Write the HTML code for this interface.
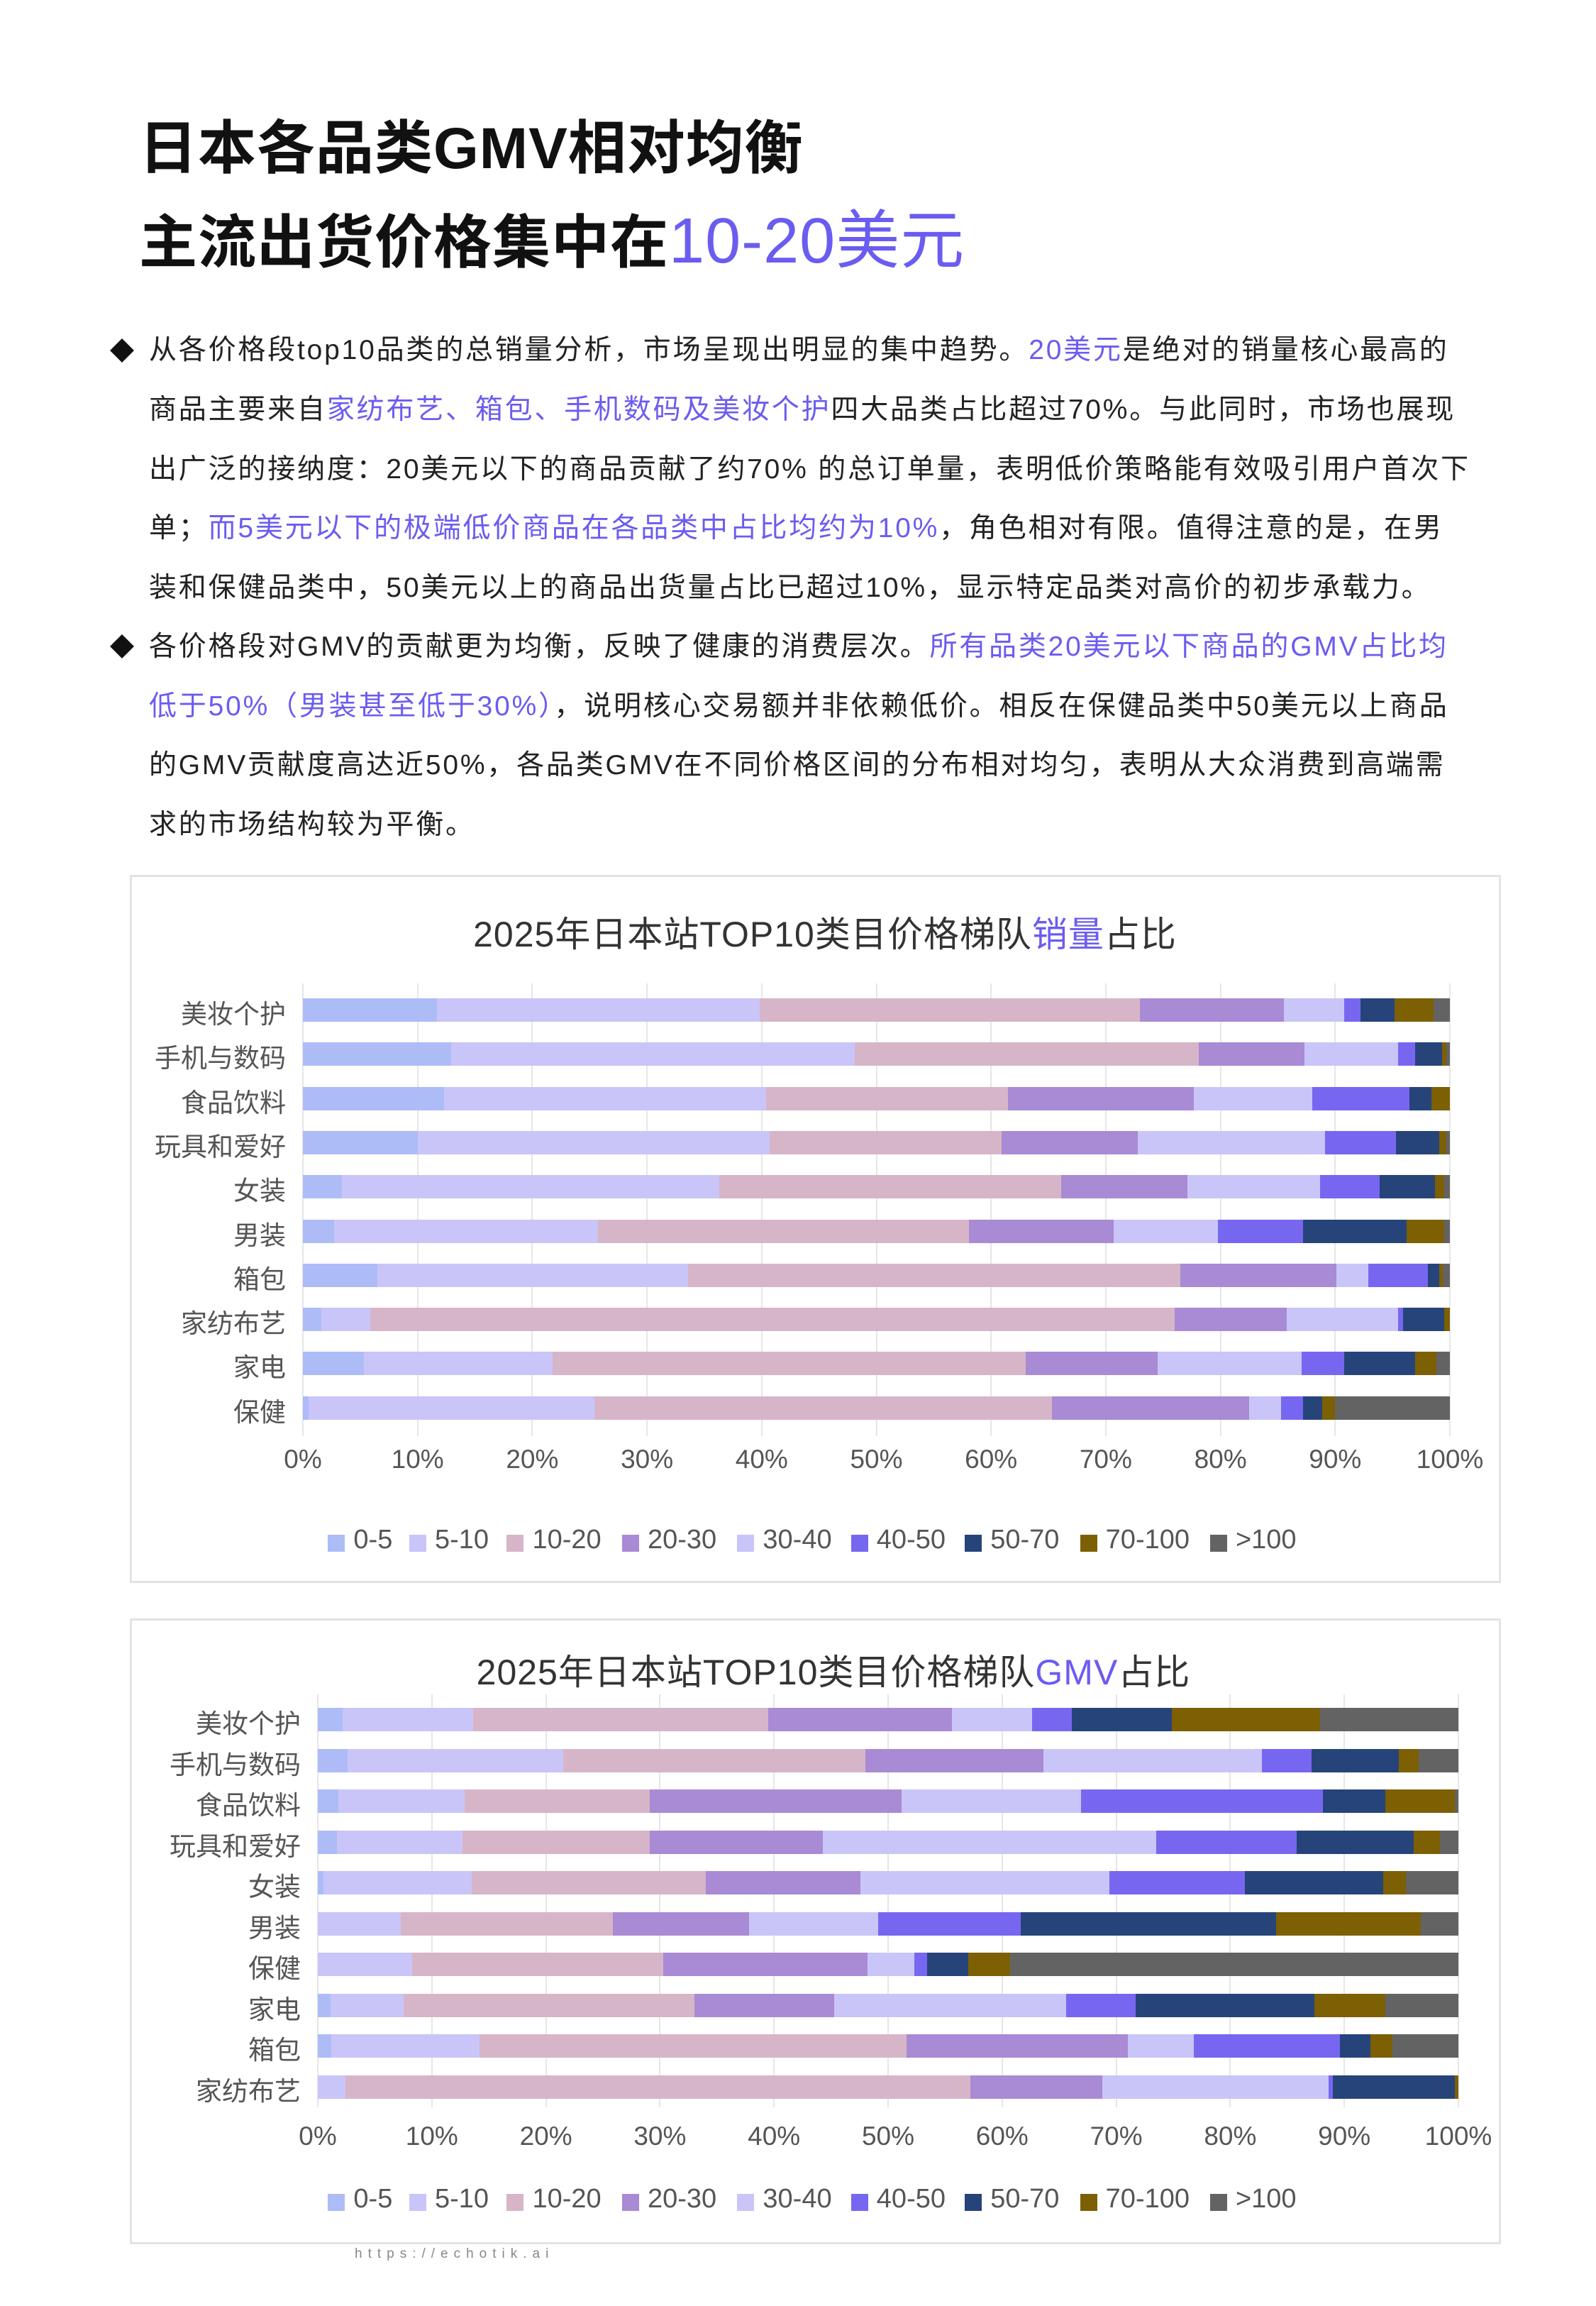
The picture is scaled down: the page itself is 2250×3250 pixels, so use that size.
<!DOCTYPE html>
<html><head><meta charset="utf-8"><style>
body{margin:0;background:#fff;font-family:"Liberation Sans","Noto Sans CJK SC",sans-serif;}
#p{position:relative;width:2250px;height:3250px;overflow:hidden;background:#fff}
.a{position:absolute;white-space:nowrap}
.t{font-size:82px;font-weight:bold;color:#111;left:196px;letter-spacing:1px}
.hl{color:#6b5cf0}
.ln{left:210px;font-size:39px;color:#222;line-height:50px;letter-spacing:2.8px}
.dm{left:160px;width:24px;height:24px;background:#111;transform:rotate(45deg)}
.box{position:absolute;border:3px solid #e3e3e3;box-sizing:border-box}
.ct{font-size:50px;color:#333;text-align:center;width:2250px;letter-spacing:1px}
.bar{position:absolute;display:flex;height:33px}
.bar div{height:100%}
.lab{font-size:37px;color:#555;text-align:right;width:300px}
.tk{font-size:37px;color:#555;width:200px;text-align:center}
.gl{position:absolute;width:2px;background:#e6e6e6}
.lg{font-size:38px;color:#555}
.sq{position:absolute;width:24px;height:24px}
</style></head><body><div id="p">
<div class="a t" style="top:142px">日本各品类GMV相对均衡</div>
<div class="a t" style="top:266px">主流出货价格集中在<span class="hl" style="font-weight:normal;font-size:90px">10-20美元</span></div>

<div class="a dm" style="top:482px"></div>
<div class="a ln" style="top:469px">从各价格段top10品类的总销量分析，市场呈现出明显的集中趋势。<span class="hl">20美元</span>是绝对的销量核心最高的</div>
<div class="a ln" style="top:553px">商品主要来自<span class="hl">家纺布艺、箱包、手机数码及美妆个护</span>四大品类占比超过70%。与此同时，市场也展现</div>
<div class="a ln" style="top:637px">出广泛的接纳度：20美元以下的商品贡献了约70% 的总订单量，表明低价策略能有效吸引用户首次下</div>
<div class="a ln" style="top:720px">单；<span class="hl">而5美元以下的极端低价商品在各品类中占比均约为10%</span>，角色相对有限。值得注意的是，在男</div>
<div class="a ln" style="top:804px">装和保健品类中，50美元以上的商品出货量占比已超过10%，显示特定品类对高价的初步承载力。</div>
<div class="a dm" style="top:899px"></div>
<div class="a ln" style="top:887px">各价格段对GMV的贡献更为均衡，反映了健康的消费层次。<span class="hl">所有品类20美元以下商品的GMV占比均</span></div>
<div class="a ln" style="top:971px"><span class="hl">低于50%（男装甚至低于30%）</span>，说明核心交易额并非依赖低价。相反在保健品类中50美元以上商品</div>
<div class="a ln" style="top:1054px">的GMV贡献度高达近50%，各品类GMV在不同价格区间的分布相对均匀，表明从大众消费到高端需</div>
<div class="a ln" style="top:1138px">求的市场结构较为平衡。</div>

<div class="box" style="left:183px;top:1233px;width:1933px;height:998px"></div>
<div class="box" style="left:183px;top:2281px;width:1933px;height:882px"></div>
<div class="a ct" style="top:1277px;left:38px">2025年日本站TOP10类目价格梯队<span class="hl">销量</span>占比</div>
<div class="a ct" style="top:2317px;left:50px">2025年日本站TOP10类目价格梯队<span class="hl">GMV</span>占比</div>
<div class="a" style="left:500px;top:3166px;font-size:19px;color:#888;letter-spacing:8px">https://echotik.ai</div>
<div id="c"></div>
</div>
<script>
var C=['#adbcf7','#c9c5f9','#d7b5c8','#a98ad4','#c9c5f9','#7767f0','#26447a','#7d5f04','#636363'];
var L=['0-5','5-10','10-20','20-30','30-40','40-50','50-70','70-100','>100'];
function chart(x0,x1,y0,dy,gtop,gbot,tky,lgy,labs,data){
 var h='',w=x1-x0;
 for(var i=0;i<=10;i++){var x=x0+w*i/10;h+='<div class="gl" style="left:'+(x-1)+'px;top:'+gtop+'px;height:'+(gbot-gtop)+'px"></div>';
  h+='<div class="a tk" style="left:'+(x-100)+'px;top:'+tky+'px">'+(i*10)+'%</div>';}
 for(var r=0;r<labs.length;r++){var yc=y0+dy*r;
  h+='<div class="a lab" style="left:'+(x0-324)+'px;top:'+(yc-24)+'px">'+labs[r]+'</div>';
  var d=data[r],s=0;d.forEach(function(v){s+=v});
  h+='<div class="bar" style="left:'+x0+'px;top:'+(yc-16)+'px;width:'+w+'px">';
  d.forEach(function(v,k){h+='<div style="width:'+(v/s*100)+'%;background:'+C[k]+'"></div>'});
  h+='</div>';}
 var lx=[222,277,343,421,499,576,653,731,819];
 for(var k=0;k<9;k++){var x=lx[k]*2.083;
  h+='<div class="sq" style="left:'+x+'px;top:'+(lgy+14)+'px;background:'+C[k]+'"></div>';
  h+='<div class="a lg" style="left:'+(x+36)+'px;top:'+lgy+'px">'+L[k]+'</div>';}
 return h;}
var d1=[[11.7,28.1,33.2,12.5,5.3,1.4,3.0,3.4,1.4],[12.9,35.2,30.0,9.2,8.2,1.5,2.3,0.4,0.3],[12.3,28.1,21.1,16.2,10.3,8.5,1.9,1.6,0],[10,30.7,20.2,11.9,16.3,6.2,3.8,0.6,0.3],[3.4,32.9,29.8,11.0,11.6,5.2,4.8,0.8,0.5],[2.7,23.0,32.4,12.6,9.1,7.4,9.0,3.3,0.5],[6.5,27.1,42.9,13.6,2.8,5.2,1.0,0.3,0.6],[1.6,4.3,70.1,9.8,9.7,0.4,3.6,0.5,0],[5.3,16.5,41.2,11.5,12.6,3.7,6.2,1.8,1.2],[0.5,24.9,39.9,17.2,2.8,1.9,1.7,1.1,10.0]];
var l1=['美妆个护','手机与数码','食品饮料','玩具和爱好','女装','男装','箱包','家纺布艺','家电','保健'];
var d2=[[2.2,11.4,25.9,16.1,7.0,3.5,8.8,13.0,12.1],[2.6,18.9,26.5,15.6,19.2,4.3,7.7,1.7,3.5],[1.8,11.1,16.2,22.1,15.7,21.2,5.5,6.1,0.3],[1.7,11.0,16.4,15.2,29.2,12.3,10.3,2.3,1.6],[0.5,13.0,20.5,13.6,21.8,11.9,12.1,2.0,4.6],[0,7.3,18.6,11.9,11.3,12.5,22.4,12.7,3.3],[0,8.3,22.0,17.9,4.1,1.1,3.6,3.7,39.3],[1.1,6.4,25.5,12.3,20.3,6.1,15.7,6.2,6.4],[1.2,13.0,37.4,19.4,5.8,12.8,2.7,1.9,5.8],[0,2.4,54.8,11.6,19.8,0.4,10.7,0.3,0]];
var l2=['美妆个护','手机与数码','食品饮料','玩具和爱好','女装','男装','保健','家电','箱包','家纺布艺'];
document.getElementById('c').innerHTML=chart(427,2044,1423,62.3,1386,2024,2036,2149,l1,d1)+chart(448,2056,2423,57.5,2388,2970,2990,3078,l2,d2);
</script>
</body></html>
